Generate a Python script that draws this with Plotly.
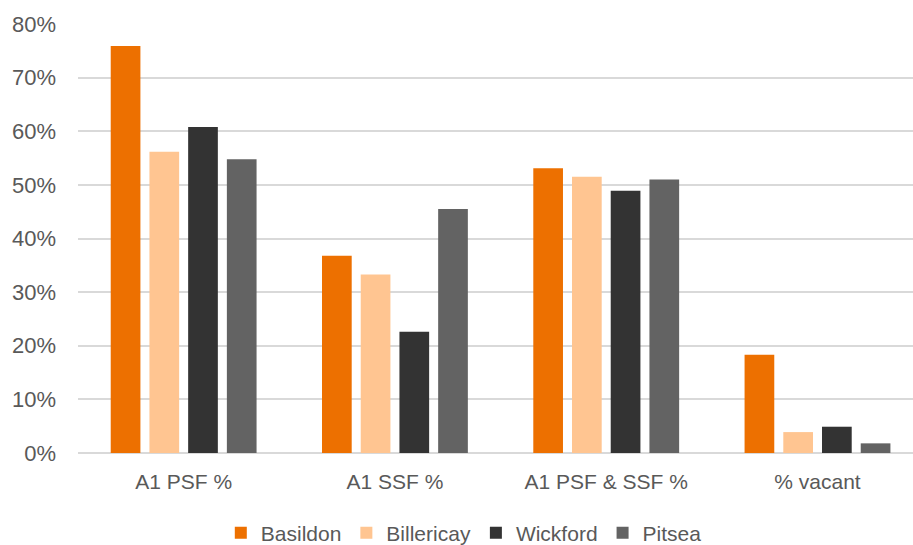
import plotly.graph_objects as go

categories = ["A1 PSF %", "A1 SSF %", "A1 PSF & SSF %", "% vacant"]
basildon = [0.759, 0.368, 0.531, 0.183]
billericay = [0.562, 0.333, 0.515, 0.039]
wickford = [0.608, 0.226, 0.489, 0.049]
pitsea = [0.548, 0.455, 0.510, 0.018]
series_names = ["Basildon", "Billericay", "Wickford", "Pitsea"]
colors = ["#ED7000", "#FFC591", "#333333", "#636363"]
y_ticks = [0, 0.1, 0.2, 0.3, 0.4, 0.5, 0.6, 0.7, 0.8]

fig = go.Figure()
for name, vals, col in zip(series_names, [basildon, billericay, wickford, pitsea], colors):
    fig.add_trace(go.Bar(x=categories, y=vals, name=name, marker_color=col,
                         marker_line_width=0))

fig.update_layout(
    width=913, height=545,
    margin=dict(l=78, r=0, t=24, b=92),
    plot_bgcolor="white", paper_bgcolor="white",
    barmode="group", bargap=0.267, bargroupgap=0.233,
    font=dict(family="Liberation Sans, Arial, sans-serif", color="#595959"),
    showlegend=True,
    legend=dict(orientation="h", xref="container", x=0.508, xanchor="center",
                yref="container", y=0.022, yanchor="middle",
                font=dict(size=21, color="#595959"), traceorder="normal",
                itemwidth=30),
    xaxis=dict(range=[-0.5, 3.452], showgrid=False, showline=False, ticks="",
               tickfont=dict(size=21, color="#595959"), ticklabelstandoff=14),
    yaxis=dict(range=[0, 0.8], tickvals=y_ticks, tickformat=".0%", showgrid=True,
               gridcolor="#D9D9D9", gridwidth=1.5, zeroline=True, zerolinecolor="#D9D9D9",
               zerolinewidth=1.5, showline=False, ticks="",
               tickfont=dict(size=22, color="#595959"), ticklabelstandoff=21),
)

fig.write_html("out.html")
